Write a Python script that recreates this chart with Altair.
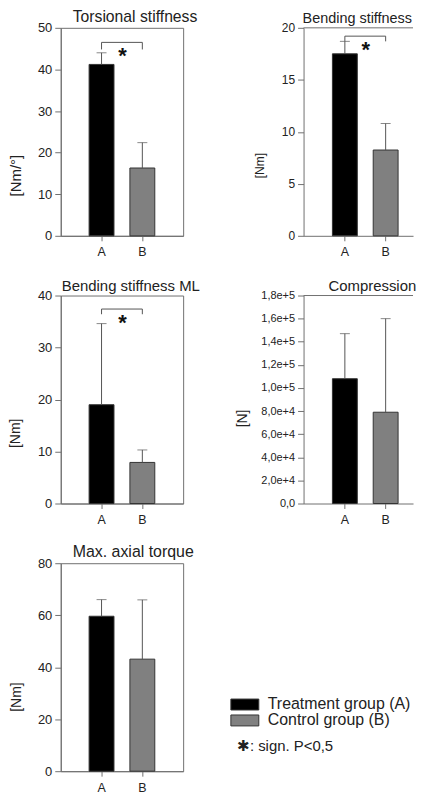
import altair as alt
import pandas as pd

# ---------------- data ----------------
titles = ["Torsional stiffness", "Bending stiffness", "Bending stiffness ML",
          "Compression", "Max. axial torque"]
units = ["[Nm/°]", "[Nm]", "[Nm]", "[N]", "[Nm]"]
groups = ["A", "B"]
group_names = ["Treatment group (A)", "Control group (B)"]
mean_A = [41.2, 17.5, 19.0, 108000, 59.6]
mean_B = [16.3, 8.25, 7.9, 79000, 43.1]
upper_A = [44.0, 18.7, 34.6, 147000, 66.0]
upper_B = [22.4, 10.8, 10.3, 160000, 65.9]
y_max = [50, 20, 40, 180000, 80]
y_ticks = [
    [0, 10, 20, 30, 40, 50],
    [0, 5, 10, 15, 20],
    [0, 10, 20, 30, 40],
    [0, 20000, 40000, 60000, 80000, 100000, 120000, 140000, 160000, 180000],
    [0, 20, 40, 60, 80],
]
bracket_top = [46.5, 19.2, 37.4, None, None]
bracket_end = [44.8, 18.7, 36.4, None, None]
sig_mark = "*"
footnote = "✱: sign. P<0,5"

# ---------------- styles ----------------
GRAY = "#707070"
TXT = "#222222"
FONT = "Liberation Sans"
H = 209
title_dx = [12, -1, 1, 25, 12]
title_size = [15.8, 14.5, 15, 15, 16]
ytitle_x = [-45, -44, -45, -61, -44]
ytitle_y = [148, 138, 138, 123, 134]
ytitle_size = [15, 12, 14, 14, 14]
ylabel_size = [13, 12, 13, 11, 13]

legend = alt.Legend(
    orient="none", legendX=177, legendY=672,
    title=footnote, titleOrient="bottom", titleAnchor="start", titleFontSize=15,
    titleFontWeight="normal", titleFont=FONT, titleColor=TXT, titlePadding=11,
    labelFontSize=16, labelFont=FONT, labelColor=TXT, labelOffset=15,
    symbolType="M-2.55,-1H2.55V1H-2.55Z", symbolSize=121,
    symbolStrokeColor="#333333", symbolStrokeWidth=1, symbolOpacity=1,
    rowPadding=0, padding=0,
)


def panel(i):
    right = i in (1, 3)
    W = 110 if right else 123
    df = pd.DataFrame({
        "grp": groups,
        "name": group_names,
        "mean": [mean_A[i], mean_B[i]],
        "upper": [upper_A[i], upper_B[i]],
    })
    xs = alt.Scale(domain=groups, paddingInner=0.39,
                   paddingOuter=0.537 if right else 0.695,
                   align=0.659 if right else 0.5)
    xax = alt.Axis(title=None, labelAngle=0)
    if i == 3:
        lexpr = "datum.value == 0 ? '0,0' : replace(format(datum.value, '.1e'), '.', ',')"
    else:
        lexpr = "format(datum.value, 'd')"
    yax = alt.Axis(values=y_ticks[i], title=units[i], titleX=ytitle_x[i], titleY=ytitle_y[i],
                   titleAngle=270, titleAlign="center", titleBaseline="middle",
                   titleFontSize=ytitle_size[i],
                   labelExpr=lexpr, labelFontSize=ylabel_size[i],
                   labelOverlap=False, labelBound=False, labelFlush=False)
    ys = alt.Scale(domain=[0, y_max[i]], nice=False, zero=True)

    def X():
        return alt.X("grp:N", scale=xs, axis=xax)

    def Y(f):
        return alt.Y(f, scale=ys, axis=yax)

    base = alt.Chart(df)
    bars = base.mark_bar(stroke="#333333", strokeWidth=1, opacity=1).encode(
        x=X(), y=Y("mean:Q"),
        color=alt.Color("name:N", scale=alt.Scale(domain=group_names,
                                                  range=["#000000", "#808080"]),
                        legend=legend),
    )
    err = base.mark_rule(color="#555555", strokeWidth=1).encode(
        x=X(), y=Y("mean:Q"), y2="upper:Q")
    cap = base.mark_tick(color="#555555", size=10, thickness=1).encode(
        x=X(), y=Y("upper:Q"))
    layers = [bars, err, cap]
    if bracket_top[i] is not None:
        bdf = pd.DataFrame({
            "grp": ["A", "A", "B", "B"],
            "v": [bracket_end[i], bracket_top[i], bracket_top[i], bracket_end[i]],
            "o": [0, 1, 2, 3],
        })
        line = alt.Chart(bdf).mark_line(color="#555555", strokeWidth=1).encode(
            x=X(), y=Y("v:Q"), order="o:Q")
        sdf = pd.DataFrame({"grp": ["A"], "v": [bracket_top[i]], "t": [sig_mark]})
        star = alt.Chart(sdf).mark_text(
            dx=21, dy=4, baseline="top", align="center", fontSize=22,
            fontWeight="bold", font=FONT, color="#111111").encode(
            x=X(), y=Y("v:Q"), text="t:N")
        layers += [line, star]
    if right:
        top = alt.Chart(alt.Data(values=[{"k": 1}])).mark_rule(
            color=GRAY, strokeWidth=1).encode(
            x=alt.value(0), x2=alt.value(W), y=alt.value(0))
        layers.append(top)
    ch = alt.layer(*layers).properties(
        width=W, height=H,
        title=alt.TitleParams(titles[i], anchor="start", dx=title_dx[i], frame="group",
                              baseline="alphabetic", offset=-16,
                              fontSize=title_size[i]),
    )
    if right:
        ch = ch.properties(view=alt.ViewBackground(stroke="transparent"))
    return ch


chart = alt.concat(
    *[panel(i) for i in range(5)],
    columns=2, bounds="flush", spacing={"row": 60, "column": 121},
).properties(
    padding={"left": 0, "top": -2, "right": 0, "bottom": 0},
).configure_view(
    stroke=GRAY, strokeWidth=1,
).configure_axis(
    domainColor=GRAY, tickColor=GRAY, labelColor=TXT, titleColor=TXT,
    labelFont=FONT, titleFont=FONT, titleFontWeight="normal", grid=False,
).configure_axisY(
    tickSize=6, labelPadding=3,
).configure_axisX(
    tickSize=5, labelPadding=5, labelFontSize=12.5,
).configure_title(
    font=FONT, fontWeight="normal", color=TXT,
)

chart.save("out.html", embed_options={"renderer": "svg", "actions": False})
